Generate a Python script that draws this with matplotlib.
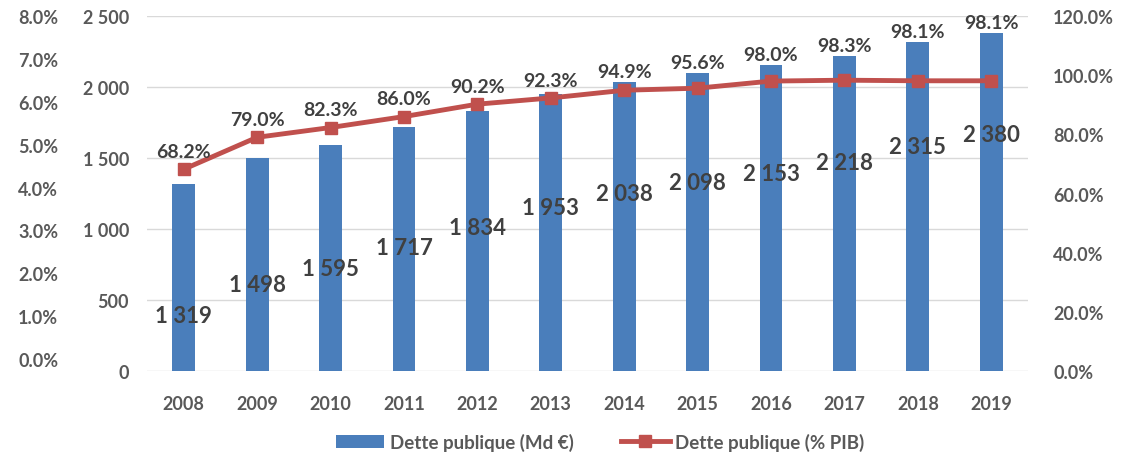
import matplotlib
matplotlib.use("Agg")
import matplotlib.pyplot as plt
from matplotlib.ticker import FuncFormatter
from matplotlib.lines import Line2D
from matplotlib.patches import Patch

years = ["2008", "2009", "2010", "2011", "2012", "2013", "2014", "2015", "2016", "2017", "2018", "2019"]
dette_md = [1319, 1498, 1595, 1717, 1834, 1953, 2038, 2098, 2153, 2218, 2315, 2380]
dette_pib = [68.2, 79.0, 82.3, 86.0, 90.2, 92.3, 94.9, 95.6, 98.0, 98.3, 98.1, 98.1]

plt.rcParams['font.family'] = ['Lato', 'DejaVu Sans']
GRAY = "#595959"
DARK = "#404040"
BLUE = "#4A7EBB"
RED = "#C0504D"

fig = plt.figure(figsize=(11.37, 4.6), dpi=100)
W, H = 1137, 460
ax = fig.add_axes([147 / W, (H - 372) / H, (1028 - 147) / W, (372 - 17) / H])
x = list(range(len(years)))
ax.bar(x, dette_md, width=0.31, color=BLUE, zorder=2)
ax.set_xlim(-0.5, len(years) - 0.5)
ax.set_ylim(0, 2500)
ax.set_yticks(range(0, 2501, 500))
ax.yaxis.set_major_formatter(FuncFormatter(lambda v, p: f"{int(v):,}".replace(",", " ")))
ax.grid(axis='y', color="#D9D9D9", linewidth=1, zorder=0)
ax.set_xticks(x)
ax.set_xticklabels(years)
for s in ax.spines.values():
    s.set_visible(False)
ax.tick_params(axis='both', length=0, colors=GRAY, labelsize=13)
ax.tick_params(axis='y', pad=13)
ax.tick_params(axis='x', pad=17)
for lab in ax.get_xticklabels() + ax.get_yticklabels():
    lab.set_fontweight('bold')

for xi, v in zip(x, dette_md):
    ly = 1.195 * v - 1182
    ax.text(xi, ly, f"{v:,}".replace(",", " "), ha='center', va='center',
            fontsize=16, color=DARK, fontweight='bold', zorder=5)

ax2 = ax.twinx()
ax2.plot(x, dette_pib, color=RED, linewidth=3.5, marker='s', markersize=9, zorder=4)
ax2.set_ylim(0, 120)
ax2.set_yticks(range(0, 121, 20))
ax2.yaxis.set_major_formatter(FuncFormatter(lambda v, p: f"{v:.1f}%"))
for s in ax2.spines.values():
    s.set_visible(False)
ax2.tick_params(axis='y', length=0, colors=GRAY, labelsize=13, pad=18)
for lab in ax2.get_yticklabels():
    lab.set_fontweight('bold')
for xi, v, md in zip(x, dette_pib, dette_md):
    bar_equiv = md / 2500 * 120
    ly = max(v + 6, bar_equiv + 3.5)
    ax2.text(xi, ly, f"{v:.1f}%", ha='center', va='center', fontsize=14,
             color=DARK, fontweight='bold', zorder=6)

ax3 = fig.add_axes([61 / W, (H - 360) / H, 0.0001, (360 - 17) / H])
ax3.set_ylim(0, 8)
ax3.set_yticks(range(0, 9))
ax3.yaxis.set_major_formatter(FuncFormatter(lambda v, p: f"{v:.1f}%"))
ax3.set_xticks([])
for s in ax3.spines.values():
    s.set_visible(False)
ax3.tick_params(axis='y', length=0, colors=GRAY, labelsize=13, pad=2)
for lab in ax3.get_yticklabels():
    lab.set_fontweight('bold')
ax3.patch.set_visible(False)

handles = [Patch(facecolor=BLUE, label="Dette publique (Md €)"),
           Line2D([0], [0], color=RED, linewidth=3.5, marker='s', markersize=9,
                  label="Dette publique (% PIB)")]
leg = fig.legend(handles=handles, loc='center', bbox_to_anchor=(600 / W, (H - 443) / H),
                 ncol=2, frameon=False, fontsize=13.5, handlelength=2.6, columnspacing=2.5,
                 handletextpad=0.3)
for t in leg.get_texts():
    t.set_color(GRAY)
    t.set_fontweight('bold')

fig.savefig("out.png", dpi=100)
